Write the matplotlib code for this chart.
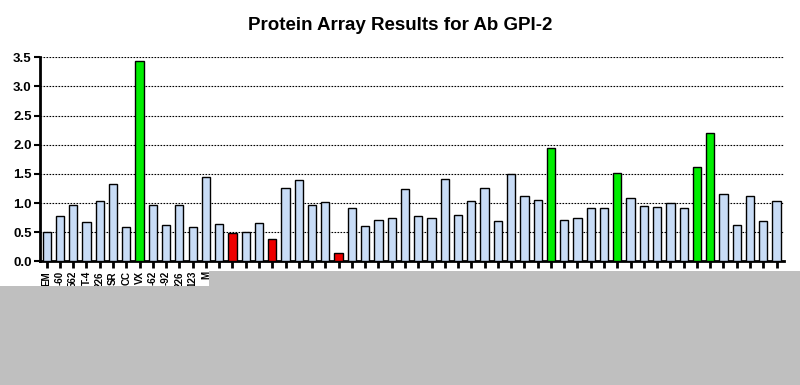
import matplotlib
matplotlib.use("Agg")
import matplotlib.pyplot as plt
from matplotlib.patches import Rectangle

values = [0.51, 0.77, 0.96, 0.68, 1.04, 1.33, 0.58, 3.44, 0.96, 0.62,
          0.96, 0.58, 1.45, 0.64, 0.48, 0.51, 0.66, 0.38, 1.25, 1.40,
          0.96, 1.01, 0.15, 0.91, 0.60, 0.71, 0.75, 1.24, 0.77, 0.75,
          1.42, 0.79, 1.03, 1.25, 0.69, 1.49, 1.12, 1.05, 1.94, 0.70,
          0.74, 0.91, 0.91, 1.52, 1.08, 0.95, 0.93, 1.00, 0.91, 1.61,
          2.20, 1.15, 0.62, 1.12, 0.69, 1.03]
# category: 'n' normal, 'h' high (green), 'l' low (red)
categories = ['n'] * 56
for i in [7, 38, 43, 49, 50]:
    categories[i] = 'h'
for i in [14, 17, 22]:
    categories[i] = 'l'
tick_labels = ["EM", "-60", "562", "T-4", "226", "SR", "CC", "VX", "-62", "-92",
               "226", "123", "M"] + [""] * 43
yticks = [0.0, 0.5, 1.0, 1.5, 2.0, 2.5, 3.0, 3.5]

color_map = {'n': '#c8dcf6', 'h': '#00ee00', 'l': '#ee0000'}
colors = [color_map[c] for c in categories]

plt.rcParams['font.family'] = ['Liberation Sans', 'DejaVu Sans']

fig = plt.figure(figsize=(8, 3.85), dpi=100)
ax = fig.add_axes([0.05, 0.3213, 0.93, 0.5299])

x = list(range(len(values)))
ax.bar(x, values, width=0.62, color=colors, edgecolor='black', linewidth=1.0, zorder=3)

ax.set_xlim(-0.5, 55.56)
ax.set_ylim(0, 3.5)
ax.set_yticks(yticks)
ax.set_yticklabels([f"{v:.1f}" for v in yticks], fontsize=9.5, fontweight='bold')
ax.set_xticks(x)
ax.set_xticklabels(tick_labels, rotation=90, fontsize=7, fontweight='bold')

for v in yticks[1:]:
    ax.axhline(v, color='black', linestyle=(0, (1.5, 1.2)), linewidth=0.8, zorder=1)

for s in ['top', 'right']:
    ax.spines[s].set_visible(False)
ax.spines['left'].set_linewidth(2)
ax.spines['bottom'].set_linewidth(2)
ax.tick_params(axis='y', length=4, width=1.5, pad=2)
ax.tick_params(axis='x', length=5, width=2, pad=2)

fig.text(0.5, 1 - 25 / 385, "Protein Array Results for Ab GPI-2",
         ha='center', va='center', fontsize=13.5, fontweight='bold')

# gray overlay boxes at the bottom
W, H = 800.0, 385.0
fig.patches.append(Rectangle((0, 0), 1, (H - 286) / H, transform=fig.transFigure,
                             facecolor='#bfbfbf', edgecolor='none', zorder=10))
fig.patches.append(Rectangle((209 / W, (H - 287) / H), 1 - 209 / W, 16 / H,
                             transform=fig.transFigure,
                             facecolor='#bfbfbf', edgecolor='none', zorder=10))

fig.savefig("out.png", dpi=100)
